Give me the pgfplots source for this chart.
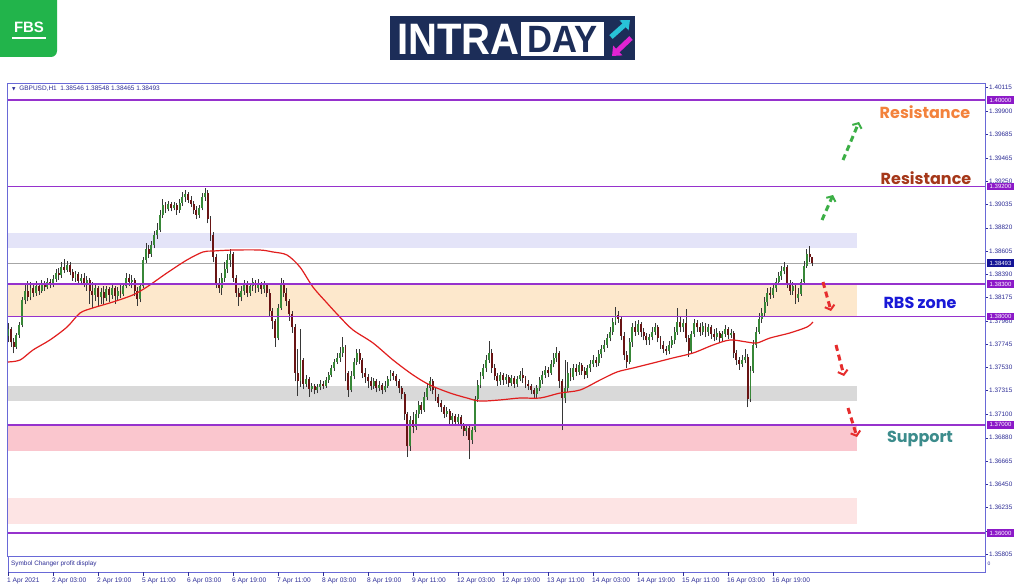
\documentclass[border=0pt]{standalone}
\usepackage{fontspec}
\setmainfont{Liberation Sans}
\newfontfamily\pop{Poppins}
\newfontfamily\dejavu{DejaVu Sans}
\usepackage{pgfplots}
\pgfplotsset{compat=1.18}
\usepackage{pgfplotstable}
\usetikzlibrary{arrows.meta}

\definecolor{navy}{RGB}{45,45,150}
\definecolor{framec}{RGB}{105,105,215}
\definecolor{lvl}{RGB}{150,50,205}
\definecolor{lvlbox}{RGB}{140,25,200}
\definecolor{curbox}{RGB}{20,20,150}
\definecolor{bull}{RGB}{55,135,55}
\definecolor{bear}{RGB}{105,20,20}
\definecolor{wick}{RGB}{55,55,55}
\definecolor{mac}{RGB}{225,30,30}
\definecolor{zlav}{RGB}{228,228,248}
\definecolor{zpeach}{RGB}{253,232,204}
\definecolor{zgrey}{RGB}{217,217,217}
\definecolor{zpink}{RGB}{250,198,206}
\definecolor{zlpink}{RGB}{253,228,228}
\definecolor{resA}{RGB}{243,130,60}
\definecolor{resB}{RGB}{165,55,25}
\definecolor{rbs}{RGB}{25,25,215}
\definecolor{supc}{RGB}{60,140,140}
\definecolor{arrG}{RGB}{60,175,70}
\definecolor{arrR}{RGB}{230,45,45}
\definecolor{fbs}{RGB}{34,180,75}
\definecolor{intra}{RGB}{28,45,88}
\definecolor{cyanA}{RGB}{40,195,215}
\definecolor{magA}{RGB}{225,35,210}

% GBPUSD H1 candles: open high low close
\pgfplotstableread{
o h l c
1.3782 1.3794 1.3776 1.3788
1.3788 1.3790 1.3772 1.3776
1.3776 1.3780 1.3766 1.3772
1.3772 1.3785 1.3770 1.3783
1.3783 1.3795 1.3780 1.3792
1.3792 1.3818 1.3790 1.3815
1.3815 1.3830 1.3812 1.3824
1.3824 1.3833 1.3814 1.3818
1.3818 1.3832 1.3815 1.3826
1.3826 1.3830 1.3818 1.3822
1.3822 1.3833 1.3819 1.3828
1.3828 1.3831 1.3820 1.3824
1.3824 1.3834 1.3822 1.3830
1.3830 1.3833 1.3824 1.3827
1.3827 1.3836 1.3825 1.3832
1.3832 1.3835 1.3826 1.3829
1.3829 1.3838 1.3827 1.3835
1.3835 1.3844 1.3832 1.3840
1.3840 1.3845 1.3834 1.3838
1.3838 1.3850 1.3836 1.3846
1.3846 1.3853 1.3840 1.3843
1.3843 1.3851 1.3841 1.3848
1.3848 1.3850 1.3838 1.3841
1.3841 1.3844 1.3833 1.3836
1.3836 1.3842 1.3832 1.3839
1.3839 1.3841 1.3830 1.3833
1.3833 1.3839 1.3829 1.3836
1.3836 1.3840 1.3827 1.3830
1.3830 1.3837 1.3824 1.3834
1.3834 1.3836 1.3812 1.3824
1.3824 1.3832 1.3808 1.3820
1.3820 1.3830 1.3814 1.3826
1.3826 1.3828 1.3810 1.3818
1.3818 1.3826 1.3812 1.3823
1.3823 1.3828 1.3811 1.3817
1.3817 1.3828 1.3814 1.3825
1.3825 1.3827 1.3813 1.3820
1.3820 1.3829 1.3816 1.3826
1.3826 1.3828 1.3812 1.3819
1.3819 1.3827 1.3815 1.3824
1.3824 1.3829 1.3817 1.3821
1.3821 1.3831 1.3819 1.3828
1.3828 1.3840 1.3826 1.3836
1.3836 1.3839 1.3828 1.3832
1.3832 1.3838 1.3826 1.3834
1.3834 1.3836 1.3819 1.3824
1.3824 1.3827 1.3810 1.3816
1.3816 1.3831 1.3813 1.3828
1.3828 1.3855 1.3826 1.3852
1.3852 1.3868 1.3849 1.3862
1.3862 1.3866 1.3854 1.3858
1.3858 1.3870 1.3855 1.3866
1.3866 1.3879 1.3863 1.3875
1.3875 1.3886 1.3872 1.3880
1.3880 1.3898 1.3878 1.3894
1.3894 1.3909 1.3891 1.3903
1.3903 1.3906 1.3896 1.3899
1.3899 1.3907 1.3897 1.3904
1.3904 1.3906 1.3897 1.3900
1.3900 1.3906 1.3898 1.3903
1.3903 1.3905 1.3894 1.3898
1.3898 1.3909 1.3896 1.3905
1.3905 1.3915 1.3902 1.3910
1.3910 1.3917 1.3906 1.3913
1.3913 1.3915 1.3905 1.3908
1.3908 1.3911 1.3901 1.3904
1.3904 1.3907 1.3895 1.3898
1.3898 1.3902 1.3890 1.3894
1.3894 1.3903 1.3891 1.3900
1.3900 1.3914 1.3898 1.3910
1.3910 1.3919 1.3907 1.3914
1.3914 1.3917 1.3886 1.3890
1.3890 1.3893 1.3870 1.3875
1.3875 1.3878 1.3850 1.3855
1.3855 1.3858 1.3826 1.3830
1.3830 1.3836 1.3822 1.3826
1.3826 1.3840 1.3820 1.3836
1.3836 1.3850 1.3832 1.3844
1.3844 1.3858 1.3840 1.3852
1.3852 1.3862 1.3846 1.3858
1.3858 1.3860 1.3832 1.3836
1.3836 1.3838 1.3818 1.3822
1.3822 1.3826 1.3810 1.3818
1.3818 1.3828 1.3814 1.3824
1.3824 1.3834 1.3820 1.3830
1.3830 1.3833 1.3818 1.3822
1.3822 1.3831 1.3819 1.3828
1.3828 1.3836 1.3824 1.3832
1.3832 1.3834 1.3822 1.3826
1.3826 1.3835 1.3823 1.3830
1.3830 1.3832 1.3821 1.3825
1.3825 1.3833 1.3822 1.3829
1.3829 1.3831 1.3818 1.3822
1.3822 1.3825 1.3800 1.3805
1.3805 1.3808 1.3788 1.3796
1.3796 1.3798 1.3772 1.3780
1.3780 1.3812 1.3778 1.3808
1.3808 1.3836 1.3806 1.3830
1.3830 1.3834 1.3818 1.3822
1.3822 1.3826 1.3810 1.3814
1.3814 1.3816 1.3796 1.3802
1.3802 1.3805 1.3785 1.3790
1.3790 1.3793 1.3740 1.3748
1.3748 1.3770 1.3727 1.3740
1.3740 1.3788 1.3735 1.3760
1.3760 1.3762 1.3733 1.3738
1.3738 1.3746 1.3735 1.3742
1.3742 1.3744 1.3726 1.3733
1.3733 1.3739 1.3730 1.3736
1.3736 1.3738 1.3728 1.3732
1.3732 1.3738 1.3729 1.3735
1.3735 1.3741 1.3732 1.3738
1.3738 1.3740 1.3733 1.3736
1.3736 1.3744 1.3734 1.3741
1.3741 1.3749 1.3739 1.3746
1.3746 1.3755 1.3744 1.3752
1.3752 1.3761 1.3750 1.3758
1.3758 1.3766 1.3756 1.3762
1.3762 1.3772 1.3758 1.3766
1.3766 1.3781 1.3763 1.3772
1.3772 1.3774 1.3740 1.3748
1.3748 1.3750 1.3726 1.3732
1.3732 1.3750 1.3730 1.3745
1.3745 1.3762 1.3742 1.3758
1.3758 1.3770 1.3755 1.3766
1.3766 1.3770 1.3756 1.3760
1.3760 1.3762 1.3743 1.3748
1.3748 1.3752 1.3739 1.3744
1.3744 1.3747 1.3734 1.3740
1.3740 1.3744 1.3732 1.3736
1.3736 1.3743 1.3733 1.3740
1.3740 1.3742 1.3730 1.3734
1.3734 1.3740 1.3731 1.3737
1.3737 1.3739 1.3728 1.3732
1.3732 1.3740 1.3730 1.3736
1.3736 1.3745 1.3734 1.3742
1.3742 1.3751 1.3740 1.3748
1.3748 1.3750 1.3741 1.3745
1.3745 1.3747 1.3736 1.3740
1.3740 1.3742 1.3729 1.3734
1.3734 1.3736 1.3724 1.3728
1.3728 1.3730 1.3704 1.3710
1.3710 1.3712 1.3670 1.3680
1.3680 1.3708 1.3676 1.3704
1.3704 1.3712 1.3692 1.3698
1.3698 1.3714 1.3695 1.3710
1.3710 1.3722 1.3706 1.3718
1.3718 1.3721 1.3710 1.3714
1.3714 1.3730 1.3712 1.3726
1.3726 1.3738 1.3723 1.3734
1.3734 1.3744 1.3731 1.3740
1.3740 1.3742 1.3728 1.3732
1.3732 1.3734 1.3722 1.3726
1.3726 1.3728 1.3716 1.3720
1.3720 1.3723 1.3712 1.3716
1.3716 1.3718 1.3706 1.3710
1.3710 1.3716 1.3707 1.3713
1.3713 1.3715 1.3700 1.3704
1.3704 1.3711 1.3701 1.3708
1.3708 1.3710 1.3699 1.3703
1.3703 1.3710 1.3700 1.3707
1.3707 1.3709 1.3696 1.3700
1.3700 1.3702 1.3690 1.3694
1.3694 1.3700 1.3690 1.3697
1.3697 1.3699 1.3668 1.3686
1.3686 1.3698 1.3682 1.3695
1.3695 1.3727 1.3693 1.3724
1.3724 1.3741 1.3721 1.3737
1.3737 1.3749 1.3734 1.3745
1.3745 1.3756 1.3742 1.3752
1.3752 1.3764 1.3749 1.3760
1.3760 1.3777 1.3757 1.3766
1.3766 1.3770 1.3748 1.3752
1.3752 1.3756 1.3741 1.3745
1.3745 1.3748 1.3736 1.3740
1.3740 1.3749 1.3737 1.3746
1.3746 1.3748 1.3737 1.3741
1.3741 1.3747 1.3738 1.3744
1.3744 1.3746 1.3735 1.3739
1.3739 1.3746 1.3736 1.3743
1.3743 1.3745 1.3734 1.3738
1.3738 1.3745 1.3735 1.3742
1.3742 1.3750 1.3740 1.3746
1.3746 1.3752 1.3739 1.3743
1.3743 1.3745 1.3734 1.3738
1.3738 1.3741 1.3732 1.3736
1.3736 1.3738 1.3728 1.3732
1.3732 1.3734 1.3724 1.3728
1.3728 1.3737 1.3725 1.3734
1.3734 1.3744 1.3731 1.3741
1.3741 1.3750 1.3738 1.3746
1.3746 1.3754 1.3743 1.3751
1.3751 1.3753 1.3744 1.3748
1.3748 1.3760 1.3746 1.3756
1.3756 1.3766 1.3753 1.3762
1.3762 1.3772 1.3758 1.3766
1.3766 1.3768 1.3734 1.3740
1.3740 1.3742 1.3695 1.3725
1.3725 1.3760 1.3720 1.3734
1.3734 1.3758 1.3730 1.3748
1.3748 1.3752 1.3740 1.3744
1.3744 1.3756 1.3741 1.3752
1.3752 1.3756 1.3745 1.3749
1.3749 1.3758 1.3746 1.3755
1.3755 1.3757 1.3746 1.3750
1.3750 1.3753 1.3742 1.3746
1.3746 1.3755 1.3743 1.3752
1.3752 1.3760 1.3749 1.3756
1.3756 1.3764 1.3753 1.3760
1.3760 1.3763 1.3753 1.3757
1.3757 1.3769 1.3754 1.3765
1.3765 1.3774 1.3762 1.3770
1.3770 1.3778 1.3767 1.3774
1.3774 1.3784 1.3771 1.3780
1.3780 1.3790 1.3777 1.3786
1.3786 1.3799 1.3783 1.3795
1.3795 1.3809 1.3792 1.3801
1.3801 1.3805 1.3794 1.3798
1.3798 1.3800 1.3778 1.3782
1.3782 1.3786 1.3760 1.3764
1.3764 1.3768 1.3752 1.3758
1.3758 1.3780 1.3756 1.3776
1.3776 1.3794 1.3772 1.3790
1.3790 1.3796 1.3782 1.3786
1.3786 1.3797 1.3783 1.3793
1.3793 1.3795 1.3781 1.3786
1.3786 1.3789 1.3778 1.3782
1.3782 1.3785 1.3774 1.3778
1.3778 1.3784 1.3774 1.3781
1.3781 1.3790 1.3778 1.3786
1.3786 1.3794 1.3783 1.3790
1.3790 1.3792 1.3776 1.3780
1.3780 1.3782 1.3770 1.3774
1.3774 1.3777 1.3766 1.3770
1.3770 1.3773 1.3764 1.3768
1.3768 1.3777 1.3765 1.3774
1.3774 1.3782 1.3771 1.3778
1.3778 1.3790 1.3775 1.3786
1.3786 1.3808 1.3783 1.3795
1.3795 1.3800 1.3786 1.3790
1.3790 1.3798 1.3786 1.3794
1.3794 1.3807 1.3776 1.3780
1.3780 1.3783 1.3763 1.3768
1.3768 1.3787 1.3765 1.3784
1.3784 1.3798 1.3781 1.3794
1.3794 1.3797 1.3786 1.3790
1.3790 1.3794 1.3782 1.3786
1.3786 1.3795 1.3783 1.3791
1.3791 1.3794 1.3781 1.3786
1.3786 1.3793 1.3782 1.3790
1.3790 1.3792 1.3779 1.3784
1.3784 1.3788 1.3777 1.3781
1.3781 1.3789 1.3778 1.3785
1.3785 1.3787 1.3776 1.3780
1.3780 1.3787 1.3777 1.3784
1.3784 1.3792 1.3781 1.3788
1.3788 1.3790 1.3779 1.3783
1.3783 1.3788 1.3780 1.3785
1.3785 1.3787 1.3762 1.3766
1.3766 1.3769 1.3755 1.3760
1.3760 1.3763 1.3751 1.3756
1.3756 1.3764 1.3753 1.3760
1.3760 1.3770 1.3757 1.3763
1.3763 1.3765 1.3716 1.3724
1.3724 1.3754 1.3721 1.3750
1.3750 1.3778 1.3748 1.3774
1.3774 1.3790 1.3771 1.3786
1.3786 1.3803 1.3784 1.3798
1.3798 1.3808 1.3794 1.3803
1.3803 1.3818 1.3800 1.3813
1.3813 1.3826 1.3810 1.3822
1.3822 1.3827 1.3816 1.3820
1.3820 1.3830 1.3817 1.3826
1.3826 1.3836 1.3823 1.3832
1.3832 1.3841 1.3829 1.3837
1.3837 1.3847 1.3834 1.3842
1.3842 1.3850 1.3839 1.3846
1.3846 1.3848 1.3826 1.3830
1.3830 1.3834 1.3820 1.3824
1.3824 1.3832 1.3820 1.3828
1.3828 1.3830 1.3812 1.3817
1.3817 1.3826 1.3813 1.3821
1.3821 1.3835 1.3819 1.3832
1.3832 1.3851 1.3830 1.3847
1.3847 1.3862 1.3845 1.3858
1.3858 1.3865 1.3850 1.38546
1.38546 1.38548 1.38465 1.38493
}\candles

\begin{document}
\begin{tikzpicture}
\path[use as bounding box, fill=white] (0pt,0pt) rectangle (1024pt,587pt);
\begin{axis}[
  at={(8pt,31pt)}, anchor=south west,
  width=977pt, height=472pt, scale only axis,
  xmin=0, xmax=347.38, ymin=1.357875, ymax=1.401478,
  axis line style={draw=framec, line width=1pt},
  tick align=outside, major tick length=3pt,
  ytick pos=right, yticklabel pos=right,
  ytick={1.35805,1.36020,1.36235,1.36450,1.36665,1.36880,1.37100,1.37315,1.37530,1.37745,1.37960,1.38175,1.38390,1.38605,1.38820,1.39035,1.39250,1.39465,1.39685,1.39900,1.40115},
  yticklabels={1.35805,,1.36235,1.36450,1.36665,1.36880,1.37100,1.37315,1.37530,1.37745,1.37960,1.38175,1.38390,1.38605,1.38820,1.39035,1.39250,1.39465,1.39685,1.39900,1.40115},
  ytick style={draw=navy, line width=0.4pt},
  yticklabel style={font=\fontsize{6.4}{7}\selectfont, text=navy, inner sep=1pt},
  xtick pos=left,
  xtick={0,16,...,272},
  xticklabels={1 Apr 2021,2 Apr 03:00,2 Apr 19:00,5 Apr 11:00,6 Apr 03:00,6 Apr 19:00,7 Apr 11:00,8 Apr 03:00,8 Apr 19:00,9 Apr 11:00,12 Apr 03:00,12 Apr 19:00,13 Apr 11:00,14 Apr 03:00,14 Apr 19:00,15 Apr 11:00,16 Apr 03:00,16 Apr 19:00},
  xtick style={draw=none},
  xticklabel style={font=\fontsize{6.6}{7}\selectfont, text=navy, anchor=north west, inner sep=0pt, yshift=-19pt, xshift=-1pt},
]
% zones
\fill[zlav]   (axis cs:0,1.38633) rectangle (axis cs:301.9,1.38771);
\fill[zpeach] (axis cs:0,1.38000) rectangle (axis cs:301.9,1.38300);
\fill[zgrey]  (axis cs:0,1.37219) rectangle (axis cs:301.9,1.37358);
\fill[zpink]  (axis cs:0,1.36758) rectangle (axis cs:301.9,1.37000);
\fill[zlpink] (axis cs:0,1.36083) rectangle (axis cs:301.9,1.36323);
% current price line
\draw[gray!70, line width=0.6pt] (axis cs:0,1.38493) -- (axis cs:347.38,1.38493);
% wicks
\addplot[draw=none, forget plot, error bars/.cd, y dir=plus, y explicit, error mark=none,
  error bar style={draw=wick, line width=0.6pt}]
  table[x expr=\coordindex, y=l, y error plus expr=\thisrow{h}-\thisrow{l}] {\candles};
% bullish bodies
\addplot[draw=none, forget plot, error bars/.cd, y dir=plus, y explicit, error mark=none,
  error bar style={draw=bull, line width=1.9pt}]
  table[x expr=\coordindex, y expr={\thisrow{c}>=\thisrow{o} ? \thisrow{o} : nan},
        y error plus expr=\thisrow{c}-\thisrow{o}] {\candles};
% bearish bodies
\addplot[draw=none, forget plot, error bars/.cd, y dir=plus, y explicit, error mark=none,
  error bar style={draw=bear, line width=1.9pt}]
  table[x expr=\coordindex, y expr={\thisrow{c}<\thisrow{o} ? \thisrow{c} : nan},
        y error plus expr=\thisrow{o}-\thisrow{c}] {\candles};
% moving average
\addplot[mac, line width=1.2pt, smooth, tension=0.5] coordinates {
(0,1.37580) (4.3,1.37598) (8.9,1.37691) (14.9,1.37783) (21,1.37903) (25.6,1.38032)
(30.2,1.38079) (37.3,1.38134) (44.4,1.38199) (49.4,1.38273) (56.5,1.38402) (63.6,1.38522)
(69.3,1.38596) (72.9,1.38605) (80,1.38614) (89.6,1.38614) (94.2,1.38596) (99.2,1.38568)
(103.8,1.38457) (108.4,1.38273) (113.4,1.38125) (118,1.37995) (122.7,1.37875) (129.8,1.37755)
(136.9,1.37598) (144,1.37460) (150,1.37367) (157.2,1.37293) (163.2,1.37247) (167.8,1.37219)
(174.9,1.37229) (182,1.37247) (189.2,1.37247) (196.3,1.37293) (203.4,1.37321) (210.5,1.37413)
(216.5,1.37487) (222.2,1.37524) (229.3,1.37570) (236.4,1.37617) (243.6,1.37663) (250.7,1.37737)
(256.7,1.37783) (262.8,1.37764) (266.3,1.37755) (270.9,1.37801) (278,1.37848) (284.1,1.37903)
(286.2,1.37949)};
% level lines
\draw[lvl, line width=1.5pt] (axis cs:0,1.40) -- (axis cs:347.38,1.40);
\draw[lvl, line width=1.5pt] (axis cs:0,1.392) -- (axis cs:347.38,1.392);
\draw[lvl, line width=1.5pt] (axis cs:0,1.383) -- (axis cs:347.38,1.383);
\draw[lvl, line width=1.5pt] (axis cs:0,1.380) -- (axis cs:347.38,1.380);
\draw[lvl, line width=1.5pt] (axis cs:0,1.370) -- (axis cs:347.38,1.370);
\draw[lvl, line width=1.5pt] (axis cs:0,1.360) -- (axis cs:347.38,1.360);
\end{axis}

\begin{scope}[x=1pt, y=-1pt, shift={(0pt,587pt)}]
% header
\node[anchor=west, text=navy, font=\fontsize{6.5}{7}\selectfont, inner sep=0pt] at (12,89)
  {{\dejavu\fontsize{4.5}{5}\selectfont ▼}\ \ GBPUSD,H1\ \ 1.38546 1.38548 1.38465 1.38493};
% sub window
\draw[framec, line width=1pt] (8,556) rectangle (985,572);
\node[anchor=west, text=navy, font=\fontsize{6.4}{7}\selectfont, inner sep=0pt] at (11,564) {Symbol Changer profit display};
\node[text=navy, font=\fontsize{5}{5}\selectfont, inner sep=0pt] at (989,564) {0};
\foreach \k in {0,...,17} \draw[navy, line width=0.5pt] ({8+45*\k},572) -- ({8+45*\k},575.5);
% price boxes
\foreach \yy/\tt in {100.0/1.40000, 186.6/1.39200, 284.0/1.38300, 316.5/1.38000, 424.8/1.37000, 533.0/1.36000}
  \node[fill=lvlbox, text=white, font=\fontsize{6}{6}\selectfont, inner sep=0pt, minimum width=27pt, minimum height=7.5pt] at (1000.5,\yy) {\tt};
\node[fill=curbox, text=white, font=\fontsize{6}{6}\selectfont, inner sep=0pt, minimum width=27pt, minimum height=7.5pt] at (1000.5,263.1) {1.38493};
% annotations
\node[text=resA, font=\pop\bfseries\fontsize{16}{18}\selectfont, inner sep=0pt] at (925,112) {Resistance};
\node[text=resB, font=\pop\bfseries\fontsize{16}{18}\selectfont, inner sep=0pt] at (926,178) {Resistance};
\node[text=rbs, font=\pop\bfseries\fontsize{16}{18}\selectfont, inner sep=0pt] at (920,303) {RBS zone};
\node[text=supc, font=\pop\bfseries\fontsize{16}{18}\selectfont, inner sep=0pt] at (920,439) {Support};
\tikzset{dar/.style={line width=3pt, dash pattern=on 6pt off 4pt, -{Straight Barb[length=4pt, width=10pt, line width=2pt]}}}
\draw[dar, arrG] (822,220) -- (833,195);
\draw[dar, arrG] (843,160) -- (859,122);
\draw[dar, arrR] (823,282) -- (831,311);
\draw[dar, arrR] (836,345) -- (844,376);
\draw[dar, arrR] (848,408) -- (857,437);
% FBS logo
\fill[fbs, rounded corners=6pt] (-10,-10) rectangle (57,57);
\node[text=white, font=\bfseries\fontsize{15}{16}\selectfont, inner sep=0pt] at (29,27) {FBS};
\fill[white] (12,37) rectangle (46,39.5);
% INTRADAY logo
\fill[intra] (390,16) rectangle (635,60);
\node[text=white, font=\bfseries\fontsize{44}{44}\selectfont, inner sep=0pt, xscale=0.91, anchor=west] at (397,39) {INTRA};
\fill[white] (521,22) rectangle (604,56);
\node[text=intra, font=\bfseries\fontsize{38}{38}\selectfont, inner sep=0pt, xscale=0.91] at (562.5,39) {DAY};
\draw[cyanA, line width=5pt, -{Triangle[length=8pt, width=13pt]}] (611,37) -- (630,20);
\draw[magA, line width=5pt, -{Triangle[length=8pt, width=13pt]}] (631,38) -- (612,56);
\end{scope}
\end{tikzpicture}
\end{document}
